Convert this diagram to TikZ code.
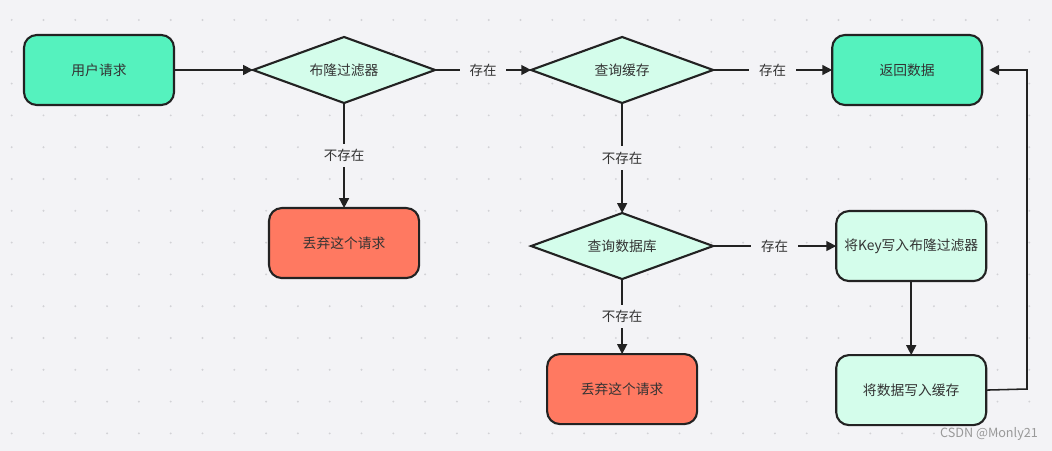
\documentclass[tikz,border=0pt]{standalone}
\usepackage{fontspec}
\setmainfont{Noto Sans CJK SC}
\usepackage{xcolor}
\usepackage{tikz}
\usetikzlibrary{positioning, arrows.meta, shapes.geometric}
\definecolor{bgcol}{HTML}{F3F3F6}
\definecolor{dotcol}{HTML}{D2D2D6}
\definecolor{mint}{HTML}{55F2BE}
\definecolor{palemint}{HTML}{D4FDEB}
\definecolor{coral}{HTML}{FF7961}
\definecolor{ink}{HTML}{222222}
\definecolor{txt}{HTML}{333333}
\tikzset{
    box/.style={rectangle, rounded corners=0.32cm, draw=ink, line width=1.5pt, outer sep=0pt, align=center, minimum width=3.75cm, minimum height=1.75cm, text=txt, font=\fontsize{9.8}{12}\selectfont},
    startend/.style={box, fill=mint},
    drop/.style={box, fill=coral},
    work/.style={box, fill=palemint},
    decision/.style={diamond, draw=ink, line width=1.5pt, outer sep=0pt, fill=palemint, aspect=2.76, inner sep=0pt, minimum width=4.55cm, minimum height=1.65cm, align=center, text=txt, font=\fontsize{9.8}{12}\selectfont},
    arrow/.style={-{Triangle[length=7pt, width=7pt]}, line width=1.1pt, draw=ink},
    tag/.style={fill=bgcol, text=txt, inner xsep=7pt, inner ysep=4pt, font=\fontsize{9.6}{12}\selectfont}
}

\begin{document}
\begin{tikzpicture}[x=0.025cm, y=-0.025cm]
        % Background and dot grid
        \fill[bgcol] (0,0) rectangle (1052,451);
        \useasboundingbox (0,0) rectangle (1052,451);
        \foreach \i in {0,...,32}
            \foreach \j in {0,...,13}
                \fill[dotcol] (11.7+31.8*\i, 20+31.8*\j) circle (0.75pt);

        % Top row
        \node[startend] (Req) at (99,70) {用户请求};
        \node[decision, right=1.975cm of Req] (Bloom) {布隆过滤器};
        \node[decision, right=2.4cm of Bloom] (Cache) {查询缓存};
        \node[startend, right=2.975cm of Cache] (Ret) {返回数据};

        % Lower part
        \node[drop, below=2.625cm of Bloom] (Drop1) {丢弃这个请求};
        \node[decision, below=2.75cm of Cache] (Db) {查询数据库};
        \node[work, right=3.075cm of Db] (WriteKey) {将Key写入布隆过滤器};
        \node[drop, below=1.875cm of Db] (Drop2) {丢弃这个请求};
        \node[work, below=1.85cm of WriteKey] (WriteCache) {将数据写入缓存};

        % Connectors
        \draw[arrow] (Req.east) -- (Bloom.west);
        \draw[arrow] (Bloom.east) -- node[tag] {存在} (Cache.west);
        \draw[arrow] (Cache.east) -- node[tag] {存在} (Ret.west);
        \draw[arrow] (Bloom.south) -- node[tag] {不存在} (Drop1.north);
        \draw[arrow] (Cache.south) -- node[tag] {不存在} (Db.north);
        \draw[arrow] (Db.east) -- node[tag] {存在} (WriteKey.west);
        \draw[arrow] (Db.south) -- node[tag] {不存在} (Drop2.north);
        \draw[arrow] (WriteKey.south) -- (WriteCache.north);
        \coordinate (Turn) at (1027,389);
        \draw[arrow, shorten >=5pt] (WriteCache.east) -- (Turn) |- (Ret.east);

        % Watermark
        \node[text=black!40, font=\fontsize{9}{11}\selectfont] (Mark) at (989,434) {CSDN @Monly21};
\end{tikzpicture}
\end{document}
